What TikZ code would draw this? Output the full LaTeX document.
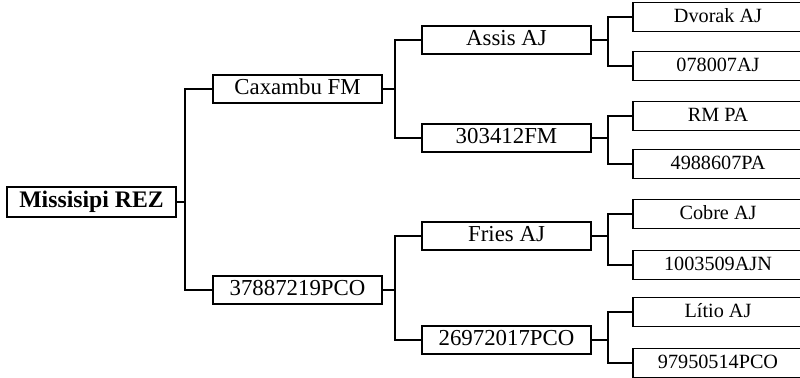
\documentclass[tikz,border=0pt]{standalone}
\usepackage{fontspec}
\setmainfont{Liberation Serif}
\usetikzlibrary{positioning}

\begin{document}
\begin{tikzpicture}[x=0.02cm,y=-0.02cm,
    animal/.style={draw,line width=1.1pt,inner sep=0pt,minimum width=3.38cm,minimum height=0.57cm,
      text height=0.66em,text depth=0pt,font=\fontsize{13}{15}\selectfont},
    rootanimal/.style={animal,minimum height=0.6cm,font=\fontsize{13.5}{15}\selectfont\bfseries},
    leafanimal/.style={animal,minimum width=3.4cm,minimum height=0.58cm,font=\fontsize{11.5}{13}\selectfont},
    link/.style={line width=0.7pt}]
  \useasboundingbox (0,0) rectangle (800,378);

  % generations
  \node[rootanimal] (rez) at (91.5,202) {Missisipi REZ};

  \node[animal] (cax) at (297.5,89) {Caxambu FM};
  \node[animal] (pcoA) at (297.5,290) {37887219PCO};

  \node[animal] (assis) at (506.5,40) {Assis AJ};
  \node[animal] (fmA) at (506.5,138) {303412FM};
  \node[animal] (fries) at (506.5,236) {Fries AJ};
  \node[animal] (pcoB) at (506.5,340) {26972017PCO};

  \node[leafanimal] (dvorak) at (718,17) {Dvorak AJ};
  \node[leafanimal] (ajA) at (718,66) {078007AJ};
  \node[leafanimal] (rmpa) at (718,116) {RM PA};
  \node[leafanimal] (paA) at (718,164) {4988607PA};
  \node[leafanimal] (cobre) at (718,214) {Cobre AJ};
  \node[leafanimal] (ajnA) at (718,265) {1003509AJN};
  \node[leafanimal] (litio) at (718,312) {Lítio AJ};
  \node[leafanimal] (pcoC) at (718,363) {97950514PCO};

  % junctions
  \coordinate (jrez) at (185,202);
  \coordinate (jcax) at (395,89);
  \coordinate (jpcoA) at (395,290);
  \coordinate (jassis) at (608,40);
  \coordinate (jfmA) at (608,138);
  \coordinate (jfries) at (608,236);
  \coordinate (jpcoB) at (608,340);

  \draw[link] (rez.east) -- (jrez);
  \draw[link] (cax.west) -| (jrez) |- (pcoA.west);

  \draw[link] (cax.east) -- (jcax);
  \draw[link] (assis.west) -| (jcax) |- (fmA.west);
  \draw[link] (pcoA.east) -- (jpcoA);
  \draw[link] (fries.west) -| (jpcoA) |- (pcoB.west);

  \draw[link] (assis.east) -- (jassis);
  \draw[link] (dvorak.west) -| (jassis) |- (ajA.west);
  \draw[link] (fmA.east) -- (jfmA);
  \draw[link] (rmpa.west) -| (jfmA) |- (paA.west);
  \draw[link] (fries.east) -- (jfries);
  \draw[link] (cobre.west) -| (jfries) |- (ajnA.west);
  \draw[link] (pcoB.east) -- (jpcoB);
  \draw[link] (litio.west) -| (jpcoB) |- (pcoC.west);
\end{tikzpicture}
\end{document}
